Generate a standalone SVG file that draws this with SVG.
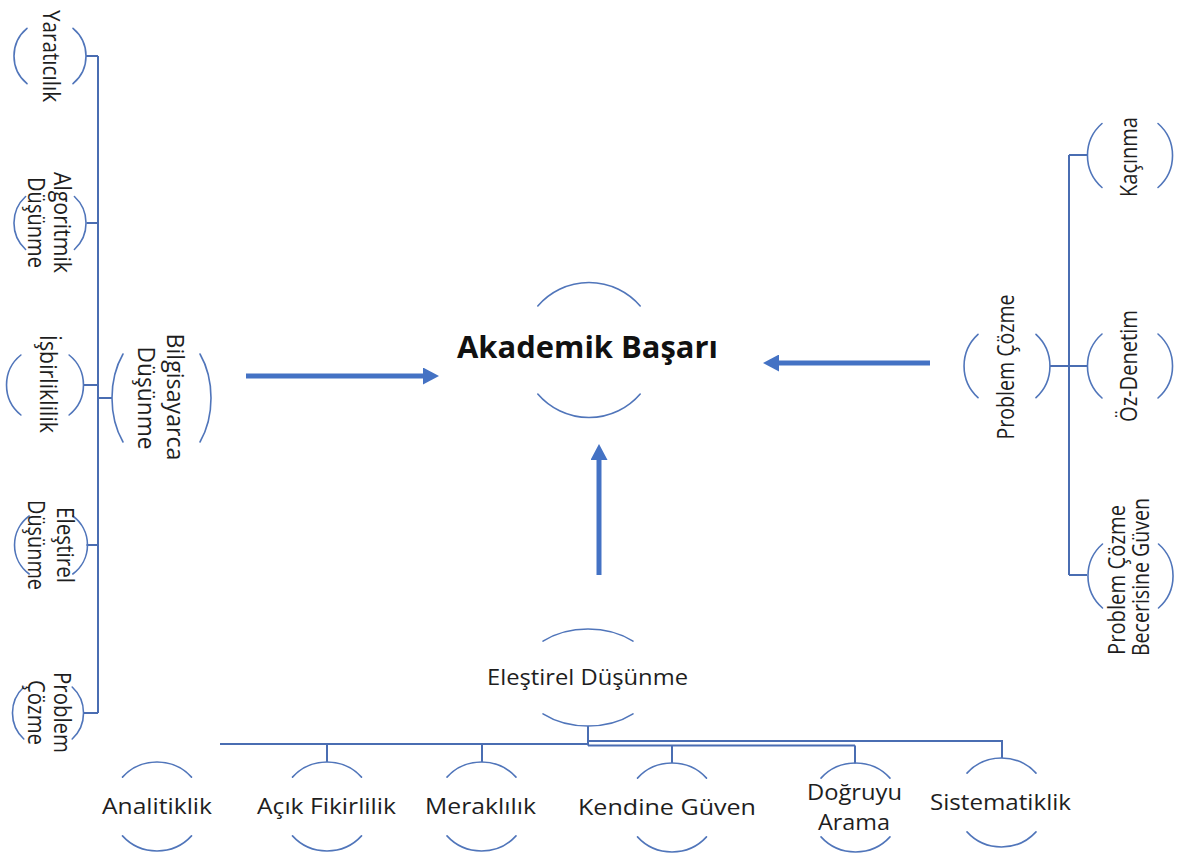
<svg xmlns="http://www.w3.org/2000/svg" width="1181" height="854" viewBox="0 0 1181 854">
  <defs>
    <style>
      .arc { fill: none; stroke: #5075BA; stroke-width: 1.6; stroke-linecap: round; }
      .wire { fill: none; stroke: #4A6DB2; stroke-width: 2; }
      .arrow { fill: none; stroke: #4472C4; stroke-width: 5; marker-end: url(#head); }
      .lbl { font-family: "Open Sans", "Noto Sans", "Liberation Sans", sans-serif; fill: #1E1E1E; text-anchor: middle; }
      .h { font-size: 21px; }
      .v { font-size: 23px; }
      .main { font-size: 31px; font-weight: bold; fill: #111; }
    </style>
    <marker id="head" viewBox="0 0 16 17" markerWidth="16" markerHeight="17" refX="0" refY="8.5" orient="auto" markerUnits="userSpaceOnUse">
      <path d="M0,0 L16,8.5 L0,17 Z" fill="#4472C4"/>
    </marker>
  </defs>
  <rect width="1181" height="854" fill="#FFFFFF"/>

  <!-- connectors -->
  <g id="connectors">
    <!-- left tree -->
    <path class="wire" d="M98 56 V713 M86 56 H98 M86.5 223 H98 M83.5 385 H98 M86.5 545 H98 M83.5 713 H98 M98 398 H112"/>
    <!-- right tree -->
    <path class="wire" d="M1069 155 V575 M1069 155 H1087 M1050 366 H1087 M1069 575 H1087"/>
    <!-- bottom tree -->
    <path class="wire" d="M588 726 V745.5 M220 744 H588 M327 744 V762 M482 744 V762 M588 745.5 H855 M672 745.5 V763 M855 745.5 V763.5 M588 741 H1002 V758"/>
    <!-- main arrows -->
    <line class="arrow" x1="246" y1="376" x2="423" y2="376"/>
    <line class="arrow" x1="930" y1="363" x2="779" y2="363"/>
    <line class="arrow" x1="599" y1="575" x2="599" y2="460"/>
  </g>

  <!-- central node -->
  <g id="node-akademik-basari">
    <path class="arc" d="M537.8 306 A67.5 67.5 0 0 1 640.2 306 M537.8 394 A67.5 67.5 0 0 0 640.2 394"/>
    <text class="lbl main" x="587.5" y="358" textLength="261" lengthAdjust="spacingAndGlyphs">Akademik Başarı</text>
  </g>

  <!-- left branch -->
  <g id="node-bilgisayarca-dusunme">
    <path class="arc" d="M123 354 A49.5 70 0 0 0 123 442 M200 354 A49.5 70 0 0 1 200 442"/>
    <text class="lbl v" transform="translate(167,397) rotate(90)" textLength="127" lengthAdjust="spacingAndGlyphs">Bilgisayarca</text>
    <text class="lbl v" transform="translate(138,398) rotate(90)" textLength="103" lengthAdjust="spacingAndGlyphs">Düşünme</text>
  </g>
  <g id="node-yaraticilik">
    <path class="arc" d="M27 28.3 A36 36 0 0 0 27 83.7 M73 28.3 A36 36 0 0 1 73 83.7"/>
    <text class="lbl v" transform="translate(43,56) rotate(90)" textLength="92" lengthAdjust="spacingAndGlyphs">Yaratıcılık</text>
  </g>
  <g id="node-algoritmik-dusunme">
    <path class="arc" d="M25.6 196.5 A36 36 0 0 0 25.6 249.5 M74.4 196.5 A36 36 0 0 1 74.4 249.5"/>
    <text class="lbl v" transform="translate(54,222.5) rotate(90)" textLength="101" lengthAdjust="spacingAndGlyphs">Algoritmik</text>
    <text class="lbl v" transform="translate(28,222.5) rotate(90)" textLength="91" lengthAdjust="spacingAndGlyphs">Düşünme</text>
  </g>
  <g id="node-isbirliklilik">
    <path class="arc" d="M20.9 355 A38.5 38.5 0 0 0 20.9 415 M69.1 355 A38.5 38.5 0 0 1 69.1 415"/>
    <text class="lbl v" transform="translate(40,384) rotate(90)" textLength="98" lengthAdjust="spacingAndGlyphs">İşbirliklilik</text>
  </g>
  <g id="node-elestirel-dusunme-left">
    <path class="arc" d="M29.2 516 A36 36 0 0 0 29.2 574 M72.8 516 A36 36 0 0 1 72.8 574"/>
    <text class="lbl v" transform="translate(57,545) rotate(90)" textLength="76" lengthAdjust="spacingAndGlyphs">Eleştirel</text>
    <text class="lbl v" transform="translate(28,545) rotate(90)" textLength="90" lengthAdjust="spacingAndGlyphs">Düşünme</text>
  </g>
  <g id="node-problem-cozme-left">
    <path class="arc" d="M23.8 687 A35.5 35.5 0 0 0 23.8 739 M72.2 687 A35.5 35.5 0 0 1 72.2 739"/>
    <text class="lbl v" transform="translate(53.5,712.5) rotate(90)" textLength="81" lengthAdjust="spacingAndGlyphs">Problem</text>
    <text class="lbl v" transform="translate(28,712.5) rotate(90)" textLength="65" lengthAdjust="spacingAndGlyphs">Çözme</text>
  </g>

  <!-- right branch -->
  <g id="node-problem-cozme-right">
    <path class="arc" d="M978 334.3 A43 43 0 0 0 978 397.7 M1036 334.3 A43 43 0 0 1 1036 397.7"/>
    <text class="lbl v" transform="translate(1014,367) rotate(-90)" textLength="145" lengthAdjust="spacingAndGlyphs">Problem Çözme</text>
  </g>
  <g id="node-kacinma">
    <path class="arc" d="M1102 123.5 A42.5 42.5 0 0 0 1102 187.5 M1158 123.5 A42.5 42.5 0 0 1 1158 187.5"/>
    <text class="lbl v" transform="translate(1137,157) rotate(-90)" textLength="80" lengthAdjust="spacingAndGlyphs">Kaçınma</text>
  </g>
  <g id="node-oz-denetim">
    <path class="arc" d="M1102 334 A42.5 42.5 0 0 0 1102 398 M1158 334 A42.5 42.5 0 0 1 1158 398"/>
    <text class="lbl v" transform="translate(1137,366) rotate(-90)" textLength="112" lengthAdjust="spacingAndGlyphs">Öz-Denetim</text>
  </g>
  <g id="node-problem-cozme-becerisine-guven">
    <path class="arc" d="M1102.5 544 A42.5 42.5 0 0 0 1102.5 608 M1158.5 544 A42.5 42.5 0 0 1 1158.5 608"/>
    <text class="lbl v" transform="translate(1125,580) rotate(-90)" textLength="150" lengthAdjust="spacingAndGlyphs">Problem Çözme</text>
    <text class="lbl v" transform="translate(1149,577) rotate(-90)" textLength="158" lengthAdjust="spacingAndGlyphs">Becerisine Güven</text>
  </g>

  <!-- bottom branch -->
  <g id="node-elestirel-dusunme">
    <path class="arc" d="M543 641.1 A68 48.5 0 0 1 633 641.1 M543 713.9 A68 48.5 0 0 0 633 713.9"/>
    <text class="lbl h" x="587.5" y="685" textLength="201" lengthAdjust="spacingAndGlyphs">Eleştirel Düşünme</text>
  </g>
  <g id="node-analitiklik">
    <path class="arc" d="M122.5 777.1 A46 44.5 0 0 1 191.5 777.1 M122.5 835.9 A46 44.5 0 0 0 191.5 835.9"/>
    <text class="lbl h" x="157" y="814" textLength="110" lengthAdjust="spacingAndGlyphs">Analitiklik</text>
  </g>
  <g id="node-acik-fikirlilik">
    <path class="arc" d="M292.5 777.1 A46 44.5 0 0 1 361.5 777.1 M292.5 835.9 A46 44.5 0 0 0 361.5 835.9"/>
    <text class="lbl h" x="326.5" y="814" textLength="139" lengthAdjust="spacingAndGlyphs">Açık Fikirlilik</text>
  </g>
  <g id="node-meraklilik">
    <path class="arc" d="M447 777.1 A46 44.5 0 0 1 516 777.1 M447 835.9 A46 44.5 0 0 0 516 835.9"/>
    <text class="lbl h" x="480.5" y="814" textLength="111" lengthAdjust="spacingAndGlyphs">Meraklılık</text>
  </g>
  <g id="node-kendine-guven">
    <path class="arc" d="M637.5 778.1 A46 44.5 0 0 1 706.5 778.1 M637.5 836.9 A46 44.5 0 0 0 706.5 836.9"/>
    <text class="lbl h" x="667" y="815" textLength="178" lengthAdjust="spacingAndGlyphs">Kendine Güven</text>
  </g>
  <g id="node-dogruyu-arama">
    <path class="arc" d="M821 778.1 A46 44.5 0 0 1 890 778.1 M821 836.9 A46 44.5 0 0 0 890 836.9"/>
    <text class="lbl h" x="854.5" y="800" textLength="95" lengthAdjust="spacingAndGlyphs">Doğruyu</text>
    <text class="lbl h" x="854" y="830" textLength="72" lengthAdjust="spacingAndGlyphs">Arama</text>
  </g>
  <g id="node-sistematiklik">
    <path class="arc" d="M967 773.1 A46 44.5 0 0 1 1036 773.1 M967 831.9 A46 44.5 0 0 0 1036 831.9"/>
    <text class="lbl h" x="1000.5" y="810" textLength="141" lengthAdjust="spacingAndGlyphs">Sistematiklik</text>
  </g>
</svg>
